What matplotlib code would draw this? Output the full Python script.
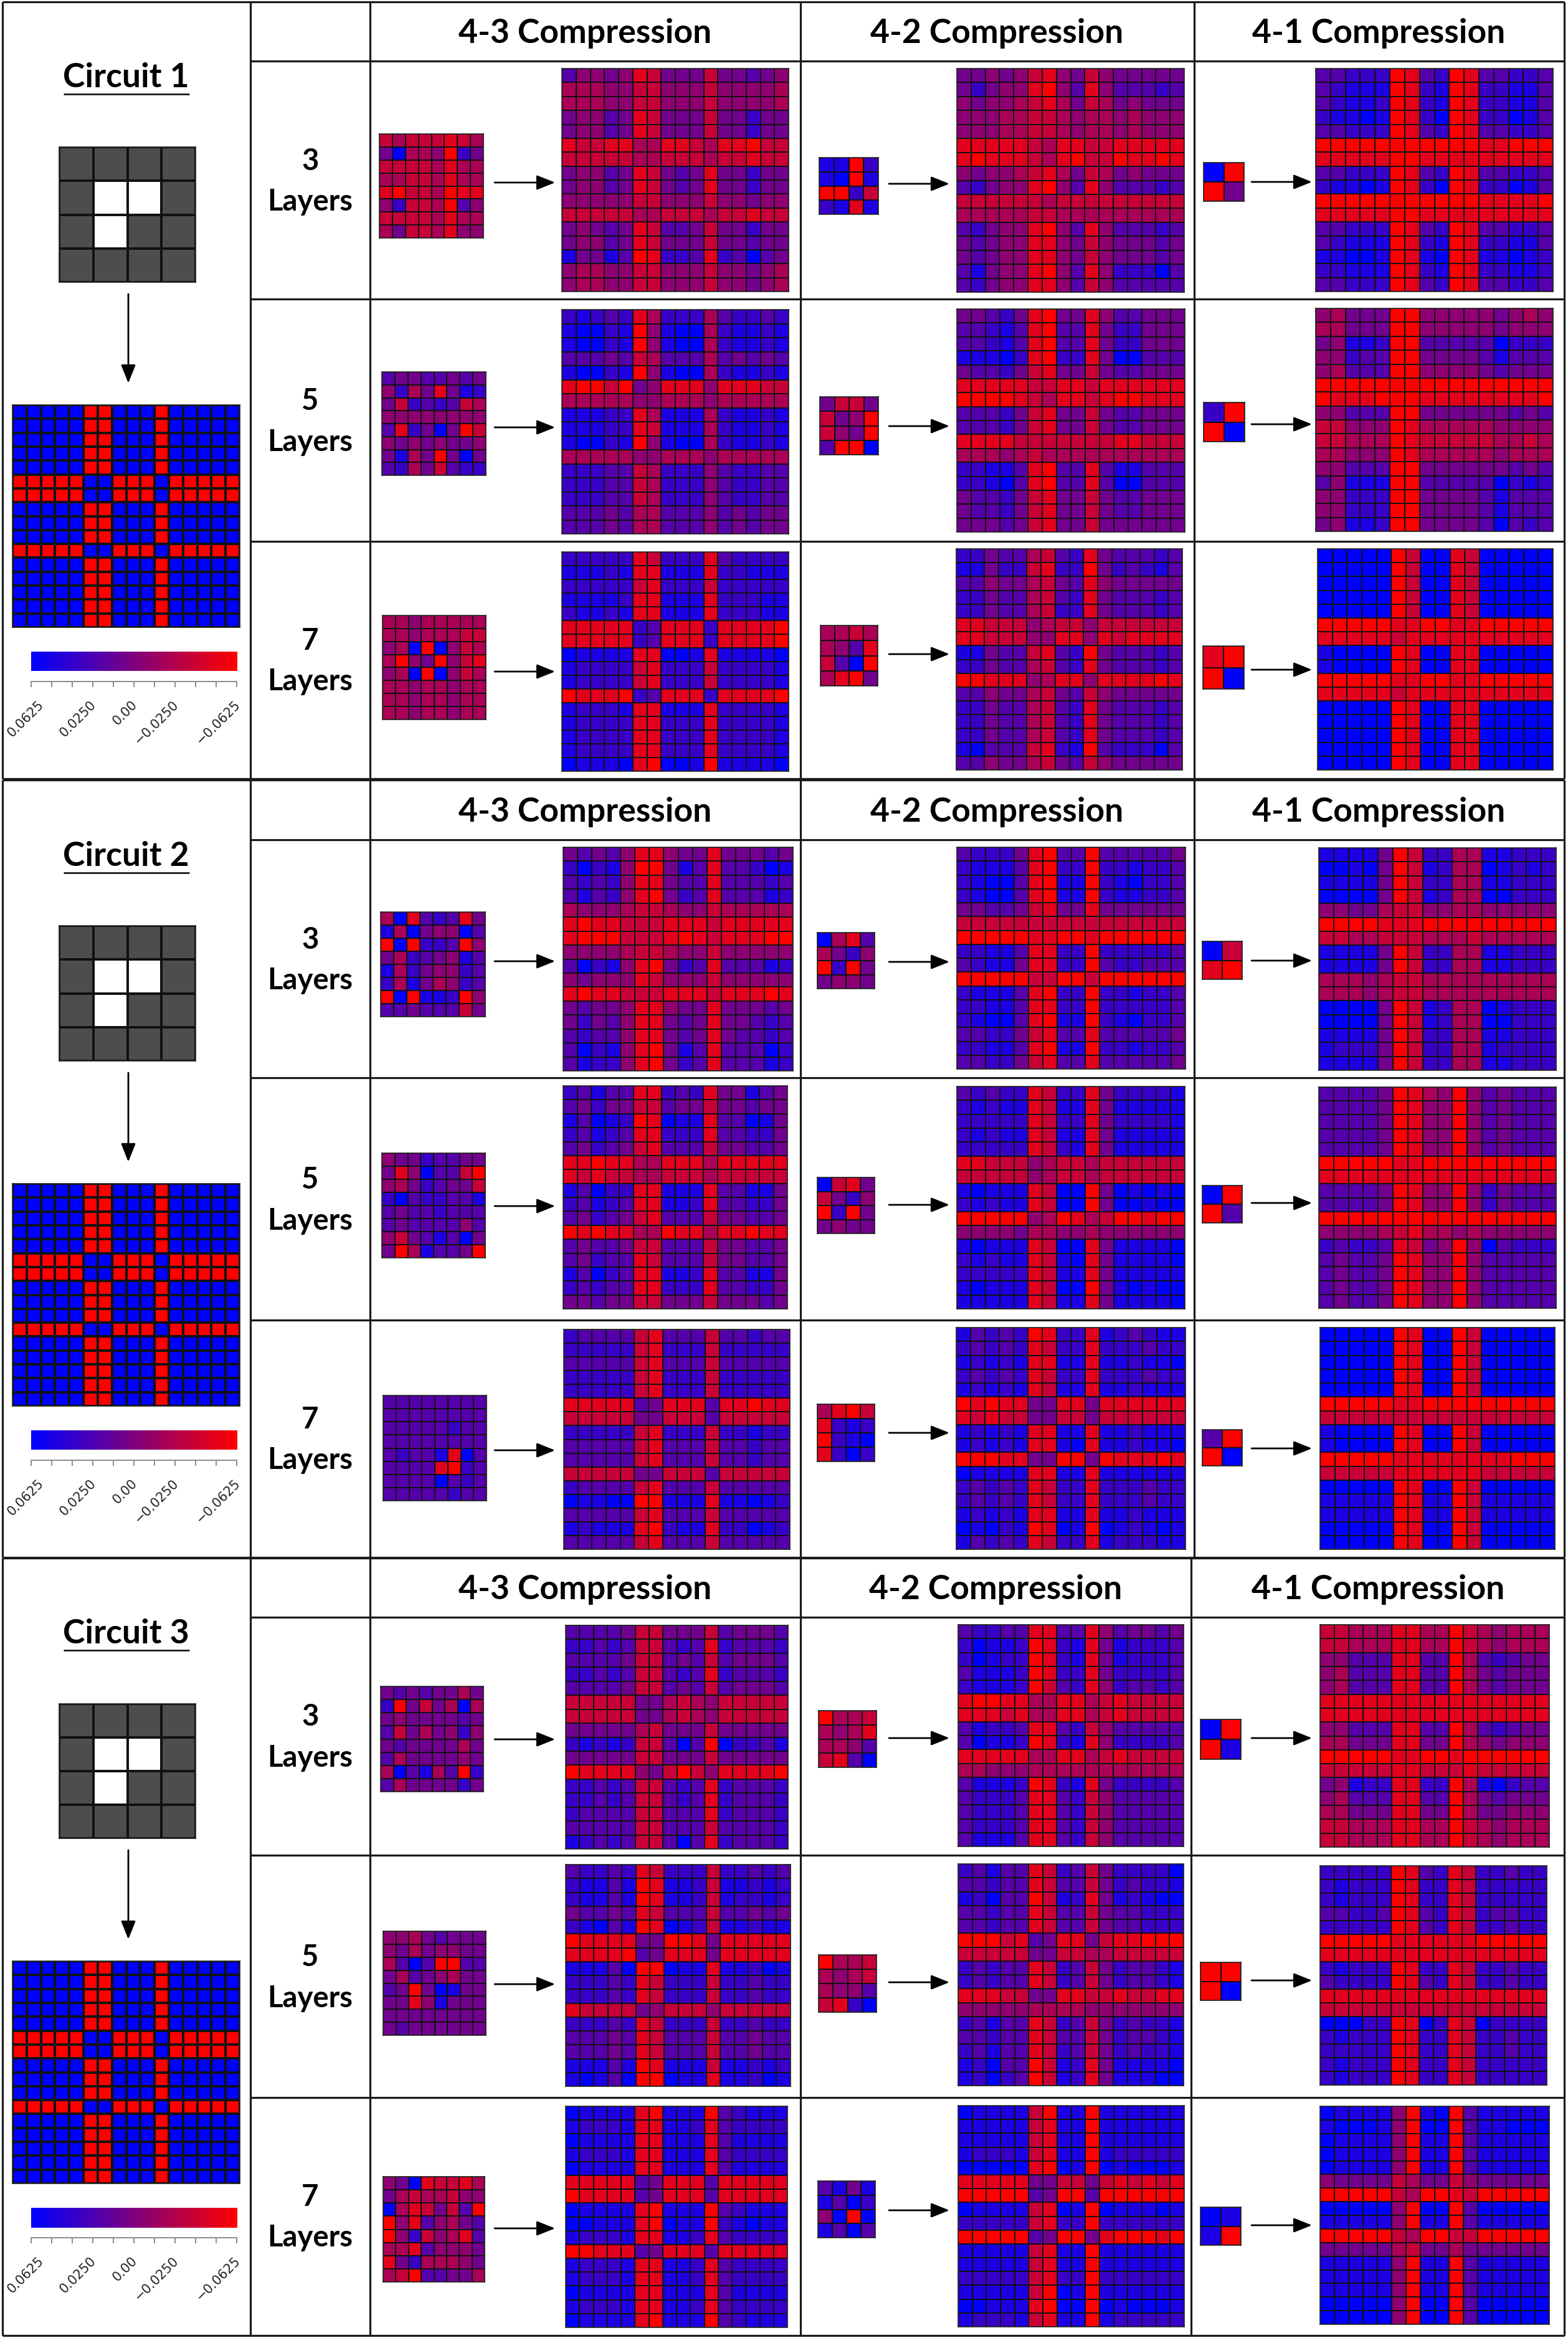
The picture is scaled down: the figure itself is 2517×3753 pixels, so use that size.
import numpy as np
import matplotlib
matplotlib.use("Agg")
import matplotlib.pyplot as plt
from matplotlib.colors import LinearSegmentedColormap

W, H = 2517, 3753

# cell values, one digit per cell: 0 = full blue, 9 = full red
TARGET = ["0000099000900000"] * 5 + ["9999900999099999"] * 2 + ["0000099000900000"] * 3 \
    + ["9999900999099999"] + ["0000099000900000"] * 5

C1_43_L3_SMALL = ["76777876", "40665924", "77776866", "66776866", "89776988", "52776935", "77776866", "64776855"]
C1_43_L3_BIG = ["3554587444744345", "6665577555755556", "6665577555755556", "4553487444744244",
                "4553487444744244", "8778866887688977", "7777766777677877", "4553487434844244",
                "4553487434844244", "5555577555755455", "7777766777677877", "4543487334744244",
                "4553487444744344", "1441398223823034", "5665577555755456", "5665577555755456"]
C1_43_L5_SMALL = ["34433434", "52648412", "47232376", "55555555", "38240497", "54545445", "41649404", "32647322"]
C1_43_L5_BIG = ["2123286222632232", "1002195100621121", "1002195100621121", "3334376333634343",
                "1002195100621121", "8997945888588877", "6666655666566666", "1112286111621121",
                "1112287111621121", "1002195100621121", "6666655666566666", "2223376222532233",
                "2223376222532233", "2223376222532233", "3334366333534344", "3334366333534344"]
C1_43_L7_SMALL = ["66566666", "66566677", "56090576", "69549578", "56090576", "66566566", "66566566", "66566566"]
C1_43_L7_BIG = ["2222287222832222", "1112188111822111", "2222278222722222", "1111288111822211",
                "2112188111822211", "8888823888288889", "8888823888288889", "0111188001811110",
                "1222278222722221", "1222278222722221", "9888923888288889", "1222188111822221",
                "1222288222822221", "1222288222822221", "1222288222822221", "0111089001911110"]
C1_42_L3_SMALL = ["1192", "1091", "9927", "2181"]
C1_42_L3_BIG = ["4454578547544444", "4245589538533323", "5455678647645444", "5556677656656555",
                "5556677656656555", "8888876887788888", "8988876897798898", "5455678647645444",
                "3245589538533323", "7777776777777777", "6666677666666666", "3245589538533323",
                "4345588547544434", "4345588547544434", "3145589538522203", "3245588537533333"]
C1_42_L5_SMALL = ["4774", "7459", "7549", "3990"]
C1_42_L5_BIG = ["4432489448533444", "3321389338422444", "3321389338422444", "1110289228400333",
                "4332478447433444", "8888877887888888", "9999876887899888", "3332478447433444",
                "3332478447433444", "8888777777788777", "6665676666666666", "2211389338311333",
                "2210389338300333", "4332478447433444", "4332478447433444", "4443478447444444"]
C1_42_L7_SMALL = ["6676", "6538", "7309", "6894"]
C1_42_L7_BIG = ["2243367328433323", "1142278229423213", "3354467438544444", "2243367328433323",
                "2243367228433323", "8877756775777777", "8877755885878888", "1143378329433323",
                "2243367328433323", "9988856885888898", "3354467437544444", "2243367328433323",
                "2243367328433323", "2243367328433323", "1033378219322203", "3354467437544444"]
C1_41_L3_SMALL = ["09", "94"]
C1_41_L3_BIG = ["3322298329833223", "3211198219822113", "3211298219822113", "2110198209822013",
                "3322298329833223", "9999999999988999", "8888899888888888", "3322298329833223",
                "2110198209822013", "9999999999988889", "8888899888888888", "3322298329833223",
                "3211198219822113", "1100198109811012", "2211198219822112", "3322298329833223"]
C1_41_L5_SMALL = ["29", "90"]
C1_41_L5_BIG = ["5644499555554565", "6644499555554555", "4511299333330222", "5523399444431333",
                "5633399555543444", "9999999999999999", "9888999888888889", "5533399444444343",
                "7755598666665555", "7766698777776676", "6655598666665666", "5533399444444343",
                "3511199333330212", "5522299444431333", "5522299444431333", "4511299444430323"]
C1_41_L7_SMALL = ["89", "90"]
C1_41_L7_BIG = ["0000097008700000"] * 5 + ["9999988998899999", "8888878888888888"] \
    + ["1000098008800000"] * 2 + ["9999988998899999", "8888878888888888"] + ["0000098008800000"] * 5

C2_43_L3_SMALL = ["60832384", "16045503", "90922395", "46234513", "16245523", "26146523", "90911295", "33433374"]
C2_43_L3_BIG = ["4343588544844434", "2021599413833201", "3232588433833323", "3132589423833312",
                "6555677655766666", "8988777888788888", "8999777898788899", "5555677655755555",
                "3021589423833312", "5455587555755555", "8988777888788898", "4344588544844434",
                "4243588434844323", "3233588434843323", "3021589413833302", "3122589423833312"]
C2_43_L5_SMALL = ["54423344", "48503379", "56423447", "20322331", "34332333", "34333353", "57431304", "49613349"]
C2_43_L5_BIG = ["2313388232844134", "3424477344744344", "1301298011833014", "2312388222833224",
                "3423478333744334", "8898866888688888", "8787766777677777", "1302288111833114",
                "2312388112833224", "3423478333744334", "9898866988688988", "3433477333744334",
                "3423387333744334", "1302388112833114", "2323388222833224", "4434477444744434"]
C2_43_L7_SMALL = ["33333333", "33333333", "33333233", "33333333", "32331803", "33338923", "33330323", "33333233"]
C2_43_L7_BIG = ["2333378333733233", "2222278222722222", "3333378333733333", "2222278222722222",
                "2222278222722222", "8888834888388988", "7777744777377777", "2222278222722122",
                "3333378333733233", "3333378333733233", "7777744777377777", "2333378333733333",
                "0110099111811012", "3333378333733333", "1211189211822012", "3333378333733333"]
C2_42_L3_SMALL = ["0683", "6425", "9294", "4554"]
C2_42_L3_BIG = ["3222489339333334", "2111389229221223", "2100389119210223", "2100389119211223",
                "4433478448444444", "7777777777777777", "9999988998999999", "2211388229222223",
                "3211488229322333", "9999977997999999", "2111389229221223", "2211388229222223",
                "2100389119210223", "3322478338333334", "2211389119221223", "3322478338333334"]
C2_42_L5_SMALL = ["0784", "7425", "9294", "4544"]
C2_42_L5_BIG = ["3232287228422221", "2121187118411111", "2222287228422221", "2121187118411111",
                "2222287218411111", "8877756776777777", "7777756776777777", "1011187009401010",
                "2121187009400100", "9999956986799899", "5555466556555555", "1011187008411110",
                "2121187108411110", "2222287118411111", "1011187009410100", "1111187118411110"]
C2_42_L7_SMALL = ["6897", "8212", "9210", "8202"]
C2_42_L7_BIG = ["1323298228123211", "2323287228222322", "1212188118112110", "2323287228222322",
                "1212187118112111", "9898844884888888", "8787744774777777", "1212188118112111",
                "1212188108112110", "9998844994988898", "0111188118111111", "2323287228222322",
                "2323287228222322", "1212188118112111", "0102198019012101", "1323287228122211"]
C2_41_L3_SMALL = ["07", "89"]
C2_41_L3_BIG = ["1111497226611222", "0010497126601212", "1111497226611222", "0000497126600222",
                "5544677556655555", "9999888999999999", "7766777666766666", "1111497226611222",
                "1111497226611222", "6665677666666666", "6665677666666666", "0000497126601222",
                "0000497126600222", "1111497226611222", "1222497226612222", "1111497226611222"]
C2_41_L5_SMALL = ["09", "93"]
C2_41_L5_BIG = ["3333498659534333", "3333498559534333", "3333498559534333", "3333498559534333",
                "3333498559534333", "9999988999999999", "8888888888888888", "3333498559524333",
                "3333498559524333", "9999999999999999", "5555678665655555", "2322387459503222",
                "3433498559533333", "3433498559533333", "3433498559533333", "3433498559533333"]
C2_41_L7_SMALL = ["39", "90"]
C2_41_L7_BIG = ["0000098009700000"] * 5 + ["9999988999999999", "7777777777777777"] \
    + ["1000098009700000"] * 2 + ["9999988888888999", "7777788888877777", "0000098009700000",
                                  "1111198119711111", "1111198119711111", "0000098009700000",
                                  "0000098009700000"]

C3_43_L3_SMALL = ["43434464", "29474606", "45444434", "37464525", "43444464", "36444454", "60316392", "36444424"]
C3_43_L3_BIG = ["3333477444734443", "2232377323823332", "3333477343734443", "2232377323823332",
                "3333477343734443", "7777744676577777", "7777744676577777", "4444467444744444",
                "2121277303902231", "4444477444744444", "9888854797588889", "2232377323823332",
                "2232377323823332", "2333377333823332", "3333377333733332", "1232377303823332"]
C3_43_L5_SMALL = ["55643444", "54645544", "63039933", "46345644", "34940144", "44851444", "44444444", "43444444"]
C3_43_L5_BIG = ["3223287222722323", "2113198112711212", "2113198112712212", "4334387333733434",
                "2103198012711211", "9888844998488888", "8888934888488888", "1113099011811201",
                "2223287222722322", "2223287222722322", "8777745777577777", "2223287222722322",
                "3334387333733433", "3334387333733433", "1113198111711212", "1013099011811201"]
C3_43_L7_SMALL = ["54087786", "46766755", "06874739", "95835643", "95275683", "66835554", "84266654", "67933446"]
C3_43_L7_BIG = ["0111189111932111", "1222188112832222", "0111188111831111", "1222188111832222",
                "0111188111831111", "8888834888388888", "9888834888388888", "0111189111932111",
                "0011189011921011", "1222188112832222", "9988834888388888", "1222188112832222",
                "1222188112832222", "0111188111831111", "1222188112832222", "0111189111932111"]
C3_42_L3_SMALL = ["9667", "6568", "6653", "7830"]
C3_42_L3_BIG = ["3223388338534434", "2011298218412223", "2012298218412223", "3111298228422223",
                "2111297328523323", "8998866886787777", "8887866886787777", "3122388327533333",
                "3011298218522223", "8888866886787777", "6655566666666666", "3111298218422223",
                "3222388327533333", "3222388327533333", "3222388327533333", "3111388327533333"]
C3_42_L5_SMALL = ["9667", "6567", "6553", "7820"]
C3_42_L5_BIG = ["2313387237422220", "3323387337423221", "1203397128412100", "3323387337433222",
                "3323387337433222", "9997834884788999", "7777744776677777", "2323387237423321",
                "2323387237423321", "8887744887787788", "5555566665555555", "2313387237423221",
                "3323387337423321", "2313387237423221", "1203397128411110", "1202397128411100"]
C3_42_L7_SMALL = ["3141", "1302", "5090", "1303"]
C3_42_L7_BIG = ["0111179119111111", "1111178119111111", "1111178119111111", "1222178119122222",
                "0000089019010001", "8888844774787878", "9999934993999999", "0111178019011101",
                "2222278229222222", "9999934994899989", "1111178119111111", "1111178119111111",
                "2222278229222222", "1111179019111111", "0011189009010001", "1222178119122222"]
C3_41_L3_SMALL = ["09", "91"]
C3_41_L3_BIG = ["7766688669765666", "7766688669765666", "5533388339632344", "5633388339643444",
                "5633388339643444", "8888888888888888", "8888888888888888", "5533388339632344",
                "6644488449654555", "9999988998999999", "7777788777877777", "4512288229610233",
                "5633388339643444", "6644488449644555", "7766688669765666", "7766688669765666"]
C3_41_L5_SMALL = ["99", "90"]
C3_41_L5_BIG = ["2222298328722322", "2122298228722222", "2122298228722222", "3322398328723322",
                "2222298328722322", "9999988888899999", "8888888888888888", "2122298228722322",
                "3222298328722322", "8888888888888888", "7777777777777777", "0002298028702222",
                "2122298228722322", "2222298228722322", "2122298228722222", "2122298228722222"]
C3_41_L7_SMALL = ["01", "19"]
C3_41_L7_BIG = ["0111159109311111", "1000159009311000", "0111159119311111", "0111159119311111",
                "0111159119311111", "5444476447544444", "9999976998799999", "0000059009300000",
                "1111159119311111", "9999976997799999", "4444467446444444", "1111159119311111",
                "1111159119311111", "1111159119311111", "0000059009300000", "0000059009300000"]

# 9 = white square in the circuit pictogram
CIRCUIT_CELLS = ["0000", "0990", "0900", "0000"]

CIRCUIT_NAMES = ["Circuit 1", "Circuit 2", "Circuit 3"]
COMPRESSIONS = ["4-3 Compression", "4-2 Compression", "4-1 Compression"]
LAYERS = ["3", "5", "7"]
CBAR_TICKS = [0.0625, 0.05, 0.0375, 0.025, 0.0125, 0.0, -0.0125, -0.025, -0.0375, -0.05, -0.0625]
CBAR_LABELS = ["0.0625", "", "", "0.0250", "", "0.00", "", "\u22120.0250", "", "", "\u22120.0625"]

SMALLS = [[[C1_43_L3_SMALL, C1_42_L3_SMALL, C1_41_L3_SMALL],
           [C1_43_L5_SMALL, C1_42_L5_SMALL, C1_41_L5_SMALL],
           [C1_43_L7_SMALL, C1_42_L7_SMALL, C1_41_L7_SMALL]],
          [[C2_43_L3_SMALL, C2_42_L3_SMALL, C2_41_L3_SMALL],
           [C2_43_L5_SMALL, C2_42_L5_SMALL, C2_41_L5_SMALL],
           [C2_43_L7_SMALL, C2_42_L7_SMALL, C2_41_L7_SMALL]],
          [[C3_43_L3_SMALL, C3_42_L3_SMALL, C3_41_L3_SMALL],
           [C3_43_L5_SMALL, C3_42_L5_SMALL, C3_41_L5_SMALL],
           [C3_43_L7_SMALL, C3_42_L7_SMALL, C3_41_L7_SMALL]]]
BIGS = [[[C1_43_L3_BIG, C1_42_L3_BIG, C1_41_L3_BIG],
         [C1_43_L5_BIG, C1_42_L5_BIG, C1_41_L5_BIG],
         [C1_43_L7_BIG, C1_42_L7_BIG, C1_41_L7_BIG]],
        [[C2_43_L3_BIG, C2_42_L3_BIG, C2_41_L3_BIG],
         [C2_43_L5_BIG, C2_42_L5_BIG, C2_41_L5_BIG],
         [C2_43_L7_BIG, C2_42_L7_BIG, C2_41_L7_BIG]],
        [[C3_43_L3_BIG, C3_42_L3_BIG, C3_41_L3_BIG],
         [C3_43_L5_BIG, C3_42_L5_BIG, C3_41_L5_BIG],
         [C3_43_L7_BIG, C3_42_L7_BIG, C3_41_L7_BIG]]]

# layout in picture pixels: x0, x1, y0, y1
SMALL_BOX = [[[(609, 776, 215, 382), (1315, 1410, 253, 344), (1932, 1997, 261, 323)],
              [(613, 780, 597, 763), (1316, 1410, 637, 730), (1932, 1998, 646, 709)],
              [(614, 780, 988, 1155), (1317, 1409, 1004, 1101), (1931, 1997, 1037, 1106)]],
             [[(611, 779, 1464, 1632), (1312, 1404, 1497, 1587), (1930, 1994, 1511, 1572)],
              [(613, 779, 1851, 2019), (1312, 1404, 1890, 1980), (1930, 1994, 1903, 1963)],
              [(615, 781, 2240, 2409), (1312, 1404, 2254, 2346), (1930, 1994, 2295, 2353)]],
             [[(611, 776, 2707, 2876), (1314, 1407, 2746, 2837), (1927, 1992, 2760, 2824)],
              [(615, 780, 3100, 3267), (1314, 1407, 3138, 3230), (1927, 1992, 3150, 3211)],
              [(615, 778, 3494, 3663), (1313, 1405, 3501, 3592), (1927, 1992, 3543, 3604)]]]
BIG_BOX = [[[(902, 1266, 110, 468), (1536, 1901, 110, 469), (2112, 2493, 110, 468)],
            [(902, 1266, 497, 857), (1536, 1902, 496, 854), (2112, 2493, 495, 853)],
            [(902, 1266, 886, 1238), (1535, 1898, 881, 1236), (2115, 2493, 881, 1236)]],
           [[(904, 1273, 1360, 1719), (1536, 1903, 1360, 1716), (2117, 2498, 1361, 1718)],
            [(904, 1264, 1743, 2101), (1536, 1902, 1744, 2101), (2117, 2498, 1745, 2100)],
            [(905, 1268, 2134, 2487), (1535, 1903, 2131, 2487), (2119, 2496, 2131, 2487)]],
           [[(908, 1265, 2609, 2968), (1538, 1900, 2608, 2964), (2119, 2487, 2608, 2965)],
            [(908, 1269, 2993, 3349), (1538, 1900, 2992, 3348), (2119, 2483, 2995, 3347)],
            [(908, 1264, 3381, 3736), (1538, 1901, 3380, 3735), (2119, 2487, 3381, 3731)]]]
ARROW_Y = [[[293, 295, 292], [686, 684, 681], [1078, 1050, 1075]],
           [[1543, 1544, 1542], [1936, 1934, 1931], [2328, 2300, 2325]],
           [[2792, 2790, 2790], [3185, 3182, 3179], [3577, 3548, 3572]]]
ARROW_X = [(794, 891), (1427, 1524), (2009, 2106)]
BLOCK_TOP = [3, 1252, 2501]
BLOCK_BOTTOM = [1250, 2500, 3749]
HEADER_LINE = [98, 1348, 2596]
ROW_LINES = [(480, 869), (1730, 2119), (2978, 3367)]
COL_LINE_X = [1285, 1917]
COL_LINE_X_LAST = [1285, 1912]
TITLE_Y = [125, 1375, 2623]
HEADER_Y = [54, 1304, 2552]
HEADER_X = [[939, 1600, 2213], [939, 1600, 2213], [939, 1598, 2212]]
LAYER_Y = [[(259, 324), (644, 710), (1029, 1094)],
           [(1509, 1574), (1894, 1960), (2279, 2344)],
           [(2756, 2822), (3142, 3208), (3527, 3592)]]
GREY_BOX = [(95, 314, 236, 453), (95, 314, 1486, 1703), (95, 314, 2735, 2951)]
DOWN_ARROW = [(472, 615), (1722, 1865), (2970, 3113)]
TARGET_BOX = [(20, 385, 650, 1007), (20, 385, 1900, 2257), (20, 385, 3148, 3505)]
CBAR_BOX = [(50, 380, 1046, 1077), (50, 380, 2296, 2327), (50, 380, 3544, 3576)]
CBAR_AXIS_Y = [1094, 2344, 3592]

blue_red = LinearSegmentedColormap.from_list("blue_red", ["#0000ff", "#ff0000"])
grey_white = LinearSegmentedColormap.from_list("grey_white", ["#4d4d4d", "#ffffff"])

fig = plt.figure(figsize=(W / 100, H / 100), dpi=100, facecolor="white")
bg = fig.add_axes([0, 0, 1, 1])
bg.set_xlim(0, W)
bg.set_ylim(H, 0)
bg.axis("off")


def pixel_axes(box):
    x0, x1, y0, y1 = box
    ax = fig.add_axes([x0 / W, 1 - y1 / H, (x1 - x0) / W, (y1 - y0) / H])
    ax.set_xticks([])
    ax.set_yticks([])
    return ax


def draw_cells(box, rows, cmap=blue_red, lw=1.3, edge="#111111"):
    ax = pixel_axes(box)
    values = np.array([[int(c) for c in row] for row in rows]) / 9
    ax.pcolormesh(values, cmap=cmap, vmin=0, vmax=1, edgecolors=edge, linewidth=lw)
    ax.invert_yaxis()
    for s in ax.spines.values():
        s.set_linewidth(1.2)
        s.set_color("#222222")
    return ax


def line(x0, x1, y0, y1, lw=2.3):
    bg.plot([x0, x1], [y0, y1], color="#1a1a1a", lw=lw, solid_capstyle="butt")


def arrow(x0, x1, y0, y1):
    bg.annotate("", xy=(x1, y1), xytext=(x0, y0),
                arrowprops=dict(arrowstyle="-|>,head_length=0.75,head_width=0.3", color="black",
                                lw=2, mutation_scale=24, shrinkA=0, shrinkB=0))


for b in range(3):
    top, bottom = BLOCK_TOP[b], BLOCK_BOTTOM[b]
    # table lines
    line(4, 4, top, bottom)
    line(2511, 2511, top, bottom)
    line(402, 402, top, bottom)
    line(594, 594, top, bottom)
    line(4, 2511, top, top)
    line(4, 2511, bottom, bottom)
    col_x = COL_LINE_X_LAST if b == 2 else COL_LINE_X
    for x in col_x:
        line(x, x, top, bottom)
    line(402, 2511, HEADER_LINE[b], HEADER_LINE[b])
    for y in ROW_LINES[b]:
        line(402, 2511, y, y)

    # left column
    bg.text(202, TITLE_Y[b], CIRCUIT_NAMES[b], fontfamily="Lato", fontweight="bold", fontsize=38.5,
            ha="center", va="center", color="black")
    line(102, 304, TITLE_Y[b] + 26, TITLE_Y[b] + 26, lw=2)
    draw_cells(GREY_BOX[b], CIRCUIT_CELLS, cmap=grey_white, lw=1.5)
    arrow(206, 206, DOWN_ARROW[b][0], DOWN_ARROW[b][1])
    draw_cells(TARGET_BOX[b], TARGET, lw=1.5)

    cb = pixel_axes(CBAR_BOX[b])
    cb.imshow(np.linspace(0, 1, 256)[None, :], cmap=blue_red, aspect="auto")
    cb.axis("off")
    x0, x1 = CBAR_BOX[b][:2]
    tick_ax = pixel_axes((x0, x1, CBAR_AXIS_Y[b], CBAR_AXIS_Y[b] + 1))
    tick_ax.set_xlim(CBAR_TICKS[0], CBAR_TICKS[-1])
    tick_ax.patch.set_visible(False)
    for name, s in tick_ax.spines.items():
        s.set_visible(name == "top")
        s.set_color("#777777")
        s.set_linewidth(1.2)
    tick_ax.set_xticks(CBAR_TICKS)
    tick_ax.set_xticklabels([])
    tick_ax.tick_params(axis="x", length=6, width=1.2, color="#777777")
    for i, (value, label) in enumerate(zip(CBAR_TICKS, CBAR_LABELS)):
        if label:
            # first label sits further right of its tick in the original
            tick_ax.annotate(label, xy=(value, 0), xycoords=("data", "axes fraction"),
                             xytext=(10 if i == 0 else -5, -26), textcoords="offset pixels",
                             rotation=45, ha="right", va="top", rotation_mode="anchor",
                             fontsize=15, color="#222222", annotation_clip=False)

    # header row
    for c in range(3):
        bg.text(HEADER_X[b][c], HEADER_Y[b], COMPRESSIONS[c], fontfamily="Lato", fontweight="bold",
                fontsize=38.5, ha="center", va="center", color="black")

    for r in range(3):
        bg.text(498, LAYER_Y[b][r][0], LAYERS[r], fontfamily="Lato", fontweight="bold", fontsize=34,
                ha="center", va="center", color="black")
        bg.text(498, LAYER_Y[b][r][1], "Layers", fontfamily="Lato", fontweight="bold", fontsize=34,
                ha="center", va="center", color="black")
        for c in range(3):
            draw_cells(SMALL_BOX[b][r][c], SMALLS[b][r][c])
            draw_cells(BIG_BOX[b][r][c], BIGS[b][r][c])
            ax0, ax1 = ARROW_X[c]
            arrow(ax0, ax1, ARROW_Y[b][r][c], ARROW_Y[b][r][c])

fig.savefig("out.png", dpi=100)
